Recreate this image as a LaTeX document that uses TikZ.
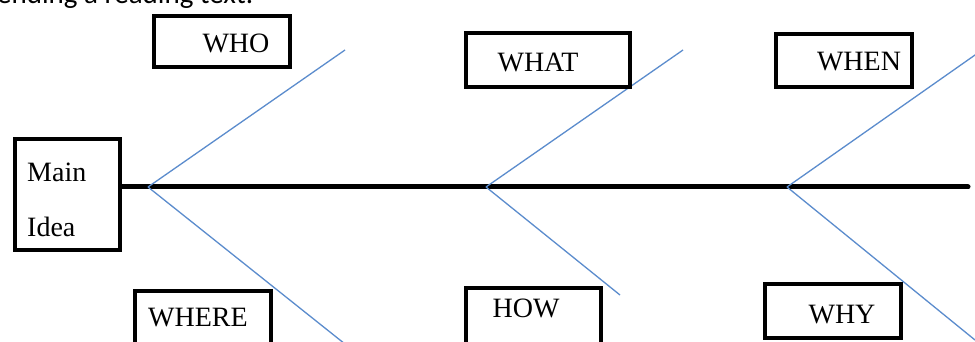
\documentclass[tikz,border=0pt]{standalone}
\usepackage{fontspec}
\setmainfont{Liberation Serif}
\newfontfamily\calfont{Carlito}
\definecolor{boneblue}{RGB}{91,140,205}
\begin{document}
\begin{tikzpicture}[x=1pt,y=-1pt,
  labelbox/.style={draw=black,line width=4pt,rectangle,inner sep=0pt},
  labeltext/.style={inner sep=0pt,font=\fontsize{28}{30}\selectfont},
  bone/.style={draw=boneblue,line width=1.3pt},
  spine/.style={draw=black,line width=5pt,line cap=round}]
\useasboundingbox (0,0) rectangle (975,342);
\clip (0,0) rectangle (975,342);
\fill[white] (0,0) rectangle (975,342);
% cut-off heading
\node[anchor=base west,inner sep=0pt,font=\calfont\fontsize{29}{31}\selectfont] (head) at (-3,4) {ending a reading text.};
% main idea box
\node[labelbox,minimum width=105pt,minimum height=111pt] (main) at (67.5,194.5) {};
\node[labeltext,anchor=west] (tmain) at (27,172) {Main};
\node[labeltext,anchor=west] (tidea) at (27,227) {Idea};
% junctions and bone ends
\coordinate (j1) at (148,187);
\coordinate (j2) at (486,187);
\coordinate (j3) at (787,187);
\coordinate (spineend) at (968,187);
\coordinate (u1) at (345,50);
\coordinate (d1) at (350,348);
\coordinate (u2) at (683,50);
\coordinate (d2) at (620,295);
\coordinate (u3) at (985,48);
\coordinate (d3) at (975,340);
% spine
\draw[spine] (main.east |- j1) -- (spineend);
% bones
\draw[bone] (j1) -- (u1);
\draw[bone] (j1) -- (d1);
\draw[bone] (j2) -- (u2);
\draw[bone] (j2) -- (d2);
\draw[bone] (j3) -- (u3);
\draw[bone] (j3) -- (d3);
% top boxes
\node[labelbox,minimum width=136pt,minimum height=51pt] (who) at (222,41.5) {};
\node[labeltext] (twho) at (236,43) {WHO};
\node[labelbox,minimum width=164pt,minimum height=54pt] (what) at (548,60) {};
\node[labeltext] (twhat) at (538,62) {WHAT};
\node[labelbox,minimum width=136pt,minimum height=53pt] (when) at (844,60.5) {};
\node[labeltext] (twhen) at (859,62) {WHEN};
% bottom boxes
\node[labelbox,minimum width=136pt,minimum height=62pt] (where) at (203,322) {};
\node[labeltext] (twhere) at (198,318) {WHERE};
\node[labelbox,minimum width=135pt,minimum height=62pt] (how) at (533.5,319) {};
\node[labeltext] (thow) at (526,308) {HOW};
\node[labelbox,minimum width=136pt,minimum height=54pt] (why) at (833,311) {};
\node[labeltext] (twhy) at (842,315) {WHY};
\end{tikzpicture}
\end{document}
